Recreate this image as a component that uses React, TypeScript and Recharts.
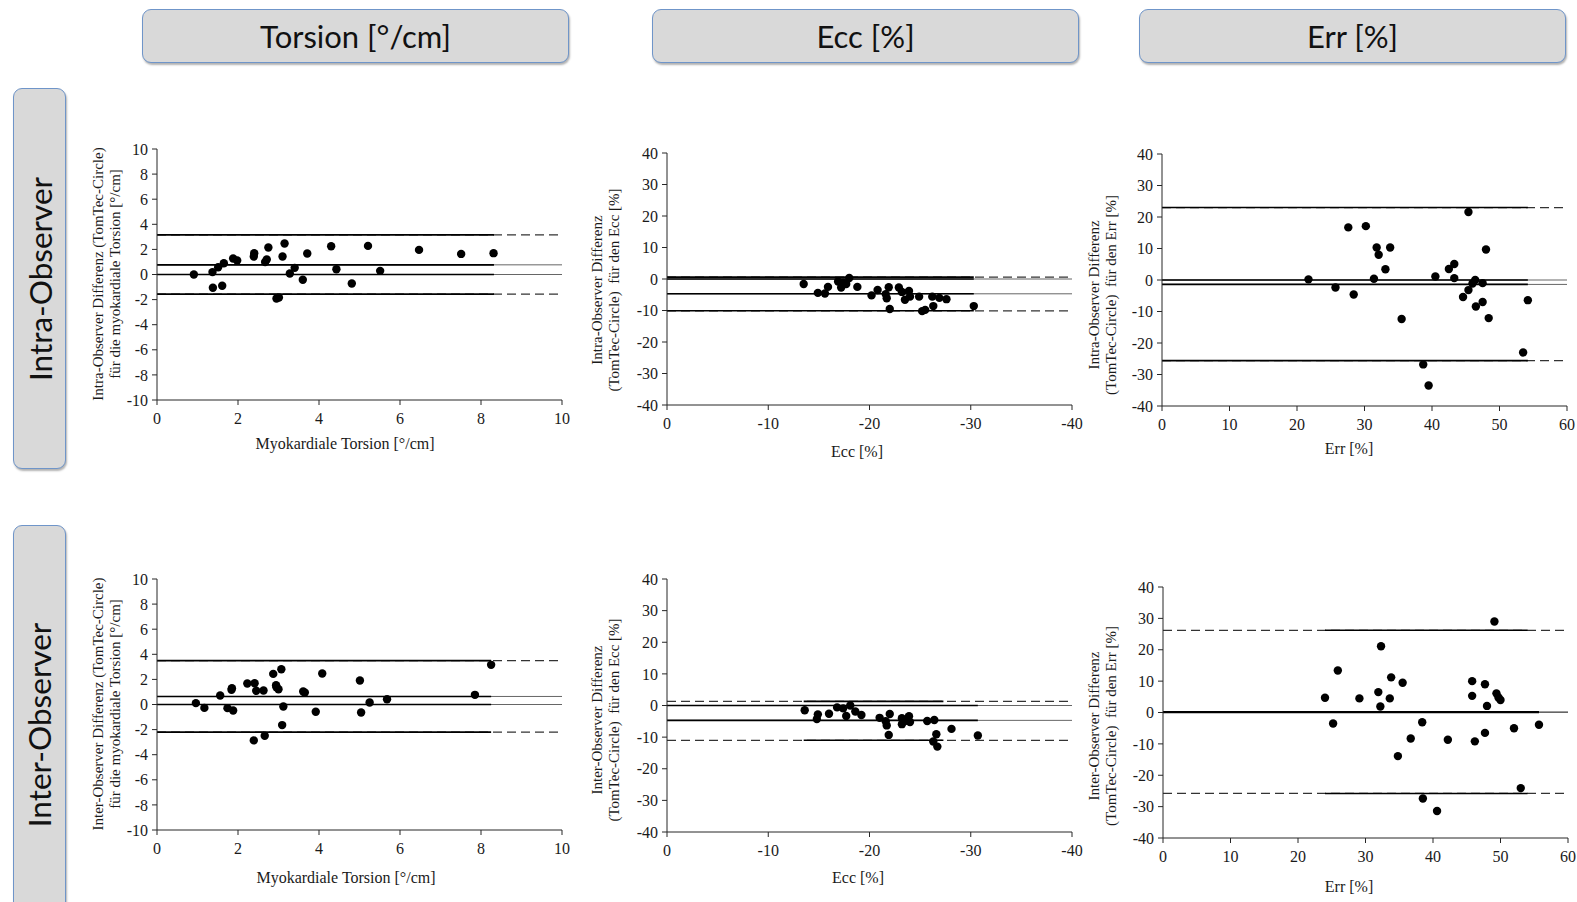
import React from 'react';
import { ReferenceLine, Scatter, ScatterChart, XAxis, YAxis } from 'recharts';

type Pt = [number, number];

// ---- data (x = mean value, y = difference) ----
const intraTorsion: Pt[] = [
  [0.91, 0.0], [1.37, 0.19], [1.38, -1.06], [1.51, 0.58], [1.61, -0.9], [1.65, 0.9],
  [1.88, 1.27], [1.98, 1.11], [2.39, 1.43], [2.4, 1.7], [2.67, 1.0], [2.71, 1.19],
  [2.75, 2.15], [2.95, -1.91], [3.01, -1.83], [3.1, 1.43], [3.15, 2.47], [3.28, 0.08],
  [3.4, 0.53], [3.6, -0.42], [3.71, 1.67], [4.3, 2.25], [4.43, 0.42], [4.81, -0.72],
  [5.21, 2.28], [5.51, 0.29], [6.47, 1.96], [7.51, 1.64], [8.31, 1.7],
];
const intraEcc: Pt[] = [
  [-13.5, -1.6], [-14.9, -4.4], [-15.6, -4.6], [-15.9, -2.5], [-16.9, -0.8], [-17.2, -2.7],
  [-17.4, -1.2], [-17.7, -1.6], [-18.0, 0.3], [-18.8, -2.5], [-20.2, -5.2], [-20.8, -3.5],
  [-21.6, -4.8], [-21.7, -6.1], [-21.9, -2.6], [-22.0, -9.5], [-22.9, -2.7], [-23.2, -4.1],
  [-23.5, -6.6], [-23.9, -3.8], [-24.0, -5.6], [-24.9, -5.6], [-25.2, -10.2], [-25.5, -9.8],
  [-26.2, -5.6], [-26.3, -8.6], [-26.9, -6.0], [-27.6, -6.4], [-30.3, -8.6],
];
const intraErr: Pt[] = [
  [21.7, 0.2], [25.7, -2.4], [27.6, 16.7], [28.4, -4.6], [30.2, 17.1], [31.4, 0.4],
  [31.8, 10.3], [32.1, 8.0], [33.1, 3.4], [33.8, 10.3], [35.5, -12.4], [38.7, -26.8],
  [39.5, -33.5], [40.5, 1.1], [42.5, 3.5], [43.3, 5.1], [43.3, 0.6], [44.6, -5.4],
  [45.4, 21.6], [45.4, -3.2], [46.0, -1.1], [46.4, 0.0], [46.5, -8.4], [47.5, -1.0],
  [47.5, -7.0], [48.0, 9.7], [48.4, -12.1], [53.5, -23.0], [54.2, -6.4],
];
const interTorsion: Pt[] = [
  [0.96, 0.11], [1.17, -0.27], [1.56, 0.72], [1.74, -0.29], [1.84, 1.17], [1.85, 1.3],
  [1.88, -0.48], [2.23, 1.67], [2.41, 1.7], [2.39, -2.86], [2.45, 1.09], [2.63, 1.11],
  [2.66, -2.49], [2.87, 2.44], [2.94, 1.54], [2.95, 1.38], [3.0, 1.22], [3.07, 2.81],
  [3.09, -1.64], [3.12, -0.16], [3.61, 1.03], [3.65, 0.95], [3.92, -0.58], [4.08, 2.47],
  [5.01, 1.91], [5.04, -0.64], [5.25, 0.16], [5.68, 0.42], [7.85, 0.77], [8.25, 3.16],
];
const interEcc: Pt[] = [
  [-13.6, -1.5], [-14.8, -4.3], [-14.9, -2.8], [-16.0, -2.6], [-16.8, -0.6], [-17.4, -0.9],
  [-17.7, -3.3], [-18.1, 0.0], [-18.6, -1.9], [-19.2, -3.0], [-21.0, -3.9], [-21.6, -5.0],
  [-21.7, -6.3], [-21.9, -9.3], [-22.0, -2.7], [-23.2, -4.0], [-23.2, -5.9], [-23.5, -4.9],
  [-23.9, -3.4], [-24.0, -5.2], [-25.7, -4.9], [-26.4, -4.6], [-26.3, -11.4], [-26.6, -9.1],
  [-26.7, -13.0], [-28.1, -7.4], [-30.7, -9.5],
];
const interErr: Pt[] = [
  [24.0, 4.7], [25.2, -3.5], [25.9, 13.4], [29.1, 4.5], [31.9, 6.5], [32.2, 1.9],
  [32.3, 21.1], [33.6, 4.5], [33.8, 11.2], [34.8, -13.9], [35.5, 9.5], [36.7, -8.3],
  [38.4, -3.1], [38.5, -27.4], [40.6, -31.4], [42.2, -8.7], [45.8, 5.3], [45.8, 10.0],
  [46.2, -9.2], [47.7, 9.0], [47.7, -6.5], [48.0, 2.1], [49.1, 29.0], [49.4, 6.1],
  [49.7, 4.8], [50.0, 4.0], [52.0, -5.0], [53.0, -24.1], [55.7, -3.9],
];

// upper limit, mean, lower limit
const intraTorsionLines = [3.16, 0.77, -1.56];
const intraEccLines = [0.6, -4.7, -10.1];
const intraErrLines = [23.0, -1.4, -25.6];
const interTorsionLines = [3.5, 0.64, -2.2];
const interEccLines = [1.3, -4.7, -11.0];
const interErrLines = [26.2, 0.2, -25.8];

const torsionTicksX = [0, 2, 4, 6, 8, 10];
const torsionTicksY = [-10, -8, -6, -4, -2, 0, 2, 4, 6, 8, 10];
const eccTicksX = [0, -10, -20, -30, -40];
const errTicksX = [0, 10, 20, 30, 40, 50, 60];
const pctTicksY = [-40, -30, -20, -10, 0, 10, 20, 30, 40];

const serif = '"Liberation Serif", "Times New Roman", serif';
const sans = 'Lato, "Open Sans", sans-serif';
const axisColor = '#262626';

interface PanelProps {
  x: number;
  y: number;
  w: number;
  h: number;
  data: Pt[];
  lines: number[];
  xDomain: [number, number];
  xTicks: number[];
  reversed?: boolean;
  yDomain: [number, number];
  yTicks: number[];
  loaSolid: [number, number];
  meanSolid: [number, number];
}

const Dot = (p: any) => <circle cx={p.cx} cy={p.cy} r={4.2} fill="#000" />;

function Panel({ x, y, w, h, data, lines, xDomain, xTicks, reversed, yDomain, yTicks, loaSolid, meanSolid }: PanelProps) {
  const ml = 70;
  const mt = 10;
  const mr = 22;
  const xh = 40;
  const [upper, mean, lower] = lines;
  const pts = data.map(([a, b]) => ({ x: a, y: b }));
  const tick = { fontSize: 16, fill: '#1a1a1a', fontFamily: serif };

  return (
    <div style={{ position: 'absolute', left: x - ml, top: y - mt }}>
      <ScatterChart width={w + ml + mr} height={h + mt + xh} margin={{ top: mt, right: mr, bottom: 0, left: 0 }}>
        <XAxis
          type="number"
          dataKey="x"
          domain={xDomain}
          ticks={xTicks}
          reversed={reversed}
          interval={0}
          height={xh}
          allowDataOverflow
          axisLine={{ stroke: axisColor }}
          tickLine={{ stroke: axisColor }}
          tickSize={5}
          tickMargin={8}
          tick={tick}
        />
        <YAxis
          type="number"
          dataKey="y"
          domain={yDomain}
          ticks={yTicks}
          interval={0}
          width={ml}
          allowDataOverflow
          axisLine={{ stroke: axisColor }}
          tickLine={{ stroke: axisColor }}
          tickSize={5}
          tickMargin={4}
          tick={tick}
        />
        {[upper, lower].map((v, i) => (
          <ReferenceLine key={'d' + i} y={v} stroke="#333" strokeWidth={1.2} strokeDasharray="9 5" />
        ))}
        {[mean, 0].map((v, i) => (
          <ReferenceLine key={'m' + i} y={v} stroke="#666" strokeWidth={1} />
        ))}
        {[upper, lower].map((v, i) => (
          <ReferenceLine
            key={'s' + i}
            segment={[{ x: loaSolid[0], y: v }, { x: loaSolid[1], y: v }]}
            stroke="#000"
            strokeWidth={1.6}
          />
        ))}
        {[mean, 0].map((v, i) => (
          <ReferenceLine
            key={'t' + i}
            segment={[{ x: meanSolid[0], y: v }, { x: meanSolid[1], y: v }]}
            stroke="#000"
            strokeWidth={1.6}
          />
        ))}
        <Scatter data={pts} shape={Dot} isAnimationActive={false} />
      </ScatterChart>
    </div>
  );
}

function YTitle({ x, y, lines }: { x: number; y: number; lines: string[] }) {
  return (
    <div
      style={{
        position: 'absolute',
        left: x,
        top: y,
        transform: 'translate(-50%, -50%) rotate(-90deg)',
        fontFamily: serif,
        fontSize: 15,
        lineHeight: '17px',
        color: '#1a1a1a',
        textAlign: 'center',
        whiteSpace: 'pre',
      }}
    >
      {lines.map((l) => (
        <div key={l}>{l}</div>
      ))}
    </div>
  );
}

function XTitle({ x, y, text }: { x: number; y: number; text: string }) {
  return (
    <div
      style={{
        position: 'absolute',
        left: x,
        top: y,
        transform: 'translate(-50%, -50%)',
        fontFamily: serif,
        fontSize: 16,
        color: '#1a1a1a',
        whiteSpace: 'pre',
      }}
    >
      {text}
    </div>
  );
}

const boxStyle: React.CSSProperties = {
  position: 'absolute',
  background: '#d9d9d9',
  border: '1px solid #6f95c9',
  borderRadius: 9,
  boxShadow: '1px 2px 2px rgba(0,0,0,0.3)',
  boxSizing: 'border-box',
  display: 'flex',
  alignItems: 'center',
  justifyContent: 'center',
  fontFamily: sans,
  color: '#111',
};

function Header({ x, text }: { x: number; text: string }) {
  return (
    <div style={{ ...boxStyle, left: x, top: 9, width: 427, height: 54, fontSize: 31 }}>{text}</div>
  );
}

function RowLabel({ y, h, text }: { y: number; h: number; text: string }) {
  return (
    <div style={{ ...boxStyle, left: 13, top: y, width: 53, height: h }}>
      <div style={{ transform: 'rotate(-90deg)', whiteSpace: 'nowrap', fontSize: 31.5 }}>{text}</div>
    </div>
  );
}

export default function App() {
  return (
    <div
      style={{
        position: 'absolute',
        left: 0,
        top: 0,
        width: 1577,
        height: 902,
        overflow: 'hidden',
        background: '#fff',
      }}
    >
      <Header x={142} text="Torsion [°/cm]" />
      <Header x={652} text="Ecc [%]" />
      <Header x={1139} text="Err [%]" />
      <RowLabel y={88} h={381} text="Intra-Observer" />
      <RowLabel y={525} h={400} text="Inter-Observer" />

      <Panel
        x={157} y={149} w={405} h={251}
        data={intraTorsion} lines={intraTorsionLines}
        xDomain={[0, 10]} xTicks={torsionTicksX} yDomain={[-10, 10]} yTicks={torsionTicksY}
        loaSolid={[0, 8.32]} meanSolid={[0, 8.32]}
      />
      <Panel
        x={667} y={153} w={405} h={252}
        data={intraEcc} lines={intraEccLines}
        xDomain={[-40, 0]} xTicks={eccTicksX} reversed yDomain={[-40, 40]} yTicks={pctTicksY}
        loaSolid={[0, -30.3]} meanSolid={[0, -30.3]}
      />
      <Panel
        x={1162} y={154} w={405} h={252}
        data={intraErr} lines={intraErrLines}
        xDomain={[0, 60]} xTicks={errTicksX} yDomain={[-40, 40]} yTicks={pctTicksY}
        loaSolid={[0, 54.2]} meanSolid={[0, 54.2]}
      />
      <Panel
        x={157} y={579} w={405} h={251}
        data={interTorsion} lines={interTorsionLines}
        xDomain={[0, 10]} xTicks={torsionTicksX} yDomain={[-10, 10]} yTicks={torsionTicksY}
        loaSolid={[0, 8.25]} meanSolid={[0, 8.25]}
      />
      <Panel
        x={667} y={579} w={405} h={253}
        data={interEcc} lines={interEccLines}
        xDomain={[-40, 0]} xTicks={eccTicksX} reversed yDomain={[-40, 40]} yTicks={pctTicksY}
        loaSolid={[-13.5, -27.3]} meanSolid={[0, -30.7]}
      />
      <Panel
        x={1163} y={587} w={405} h={251}
        data={interErr} lines={interErrLines}
        xDomain={[0, 60]} xTicks={errTicksX} yDomain={[-40, 40]} yTicks={pctTicksY}
        loaSolid={[24, 54]} meanSolid={[0, 55.7]}
      />

      <YTitle x={107} y={274} lines={['Intra-Observer Differenz (TomTec-Circle)', 'für die myokardiale Torsion [°/cm]']} />
      <YTitle x={606} y={290} lines={['Intra-Observer Differenz', '(TomTec-Circle)  für den Ecc [%]']} />
      <YTitle x={1103} y={295} lines={['Intra-Observer Differenz', '(TomTec-Circle)  für den Err [%]']} />
      <YTitle x={107} y={704} lines={['Inter-Observer Differenz (TomTec-Circle)', 'für die myokardiale Torsion [°/cm]']} />
      <YTitle x={606} y={720} lines={['Inter-Observer Differenz', '(TomTec-Circle)  für den Ecc [%]']} />
      <YTitle x={1103} y={726} lines={['Inter-Observer Differenz', '(TomTec-Circle)  für den Err [%]']} />

      <XTitle x={345} y={444} text="Myokardiale Torsion [°/cm]" />
      <XTitle x={857} y={452} text="Ecc [%]" />
      <XTitle x={1349} y={449} text="Err [%]" />
      <XTitle x={346} y={878} text="Myokardiale Torsion [°/cm]" />
      <XTitle x={858} y={878} text="Ecc [%]" />
      <XTitle x={1349} y={887} text="Err [%]" />
    </div>
  );
}
